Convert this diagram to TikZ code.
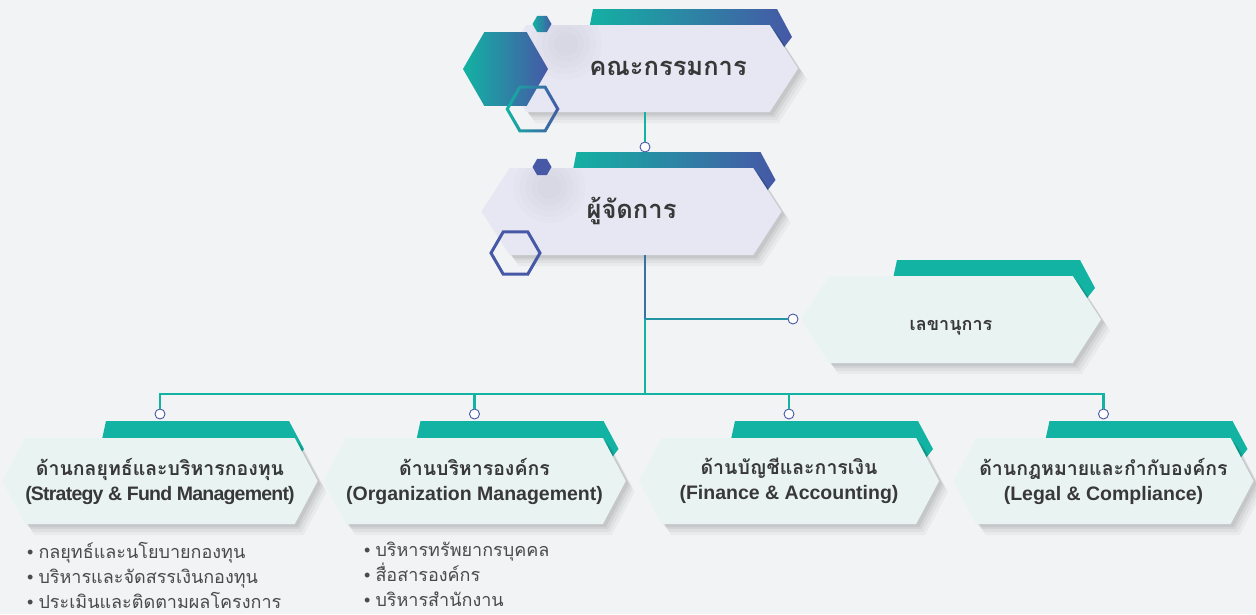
\documentclass[tikz,border=0pt]{standalone}
\usepackage{fontspec}
\setmainfont{Liberation Sans}
\newfontfamily\thai[Script=Thai]{Loma}
\usetikzlibrary{shapes.symbols,shadows}

\definecolor{bgc}{HTML}{F1F3F5}
\definecolor{tealc}{HTML}{12B3A3}
\definecolor{bluec}{HTML}{4658A6}
\definecolor{topfill}{HTML}{E6E7F3}
\definecolor{lowfill}{HTML}{E9F3F2}
\definecolor{inkc}{HTML}{383838}
\definecolor{listc}{HTML}{4A4A4A}

\newcommand{\hexa}[2]{(#1) ++(0:#2) -- ++(120:#2) -- ++(180:#2) -- ++(240:#2) -- ++(300:#2) -- ++(0:#2) -- cycle}

\begin{document}
\begin{tikzpicture}[x=1pt,y=-1pt]
	\tikzset{
		hexbox/.style={
			shape=signal, signal to=east and west, signal pointer angle=114,
			minimum width=300pt, minimum height=87pt, inner sep=0pt,
			general shadow={fill=black, opacity=0.035, shadow xshift=9pt, shadow yshift=-11pt},
			general shadow={fill=black, opacity=0.04, shadow xshift=7pt, shadow yshift=-8pt},
			general shadow={fill=black, opacity=0.05, shadow xshift=5pt, shadow yshift=-5pt},
			general shadow={fill=black, opacity=0.06, shadow xshift=3pt, shadow yshift=-3pt}
		},
		topbox/.style={
			hexbox, fill=topfill,
			path picture={
				\foreach \r in {36,30,24,18,12}{
					\fill[black, opacity=0.013] ([shift={(68,19)}]path picture bounding box.north west) circle (\r pt);
				}
			}
		},
		lowbox/.style={
			hexbox, fill=lowfill
		},
		subbox/.style={
			lowbox, signal pointer angle=124, minimum height=86pt,
			align=center, text=inkc, font=\bfseries\fontsize{19.5}{25}\selectfont
		},
		title/.style={
			text=inkc, font=\thai\bfseries\fontsize{25.5}{30}\selectfont,
			text height=20pt, text depth=6pt
		},
		smalltitle/.style={
			title, font=\thai\bfseries\fontsize{18}{22}\selectfont,
			text height=26pt, text depth=5pt
		},
		bullets/.style={
			anchor=north west, align=left, inner sep=0pt, text=listc,
			font=\fontsize{18}{25}\selectfont
		},
		dot/.style={
			circle, draw=bluec, fill=white, line width=0.9pt, inner sep=0pt, minimum size=10pt
		},
		link/.style={
			line width=2.5pt, draw=tealc
		}
	}

	\useasboundingbox (0,0) rectangle (1256,614);
	\fill[bgc] (0,0) rectangle (1256,614);

	\foreach \cx/\cy in {648/25, 631.5/168}{
		\shade[left color=tealc, right color=bluec] (\cx-55,\cy-16) -- (\cx+129,\cy-16) -- (\cx+144,\cy+12) -- (\cx+130,\cy+30) -- (\cx-64,\cy+30) -- cycle;
	}
	\foreach \cx/\cy in {951/276, 160/437, 474.5/437, 789/437, 1103.5/437}{
		\fill[tealc] (\cx-54,\cy-16) -- (\cx+129,\cy-16) -- (\cx+144,\cy+12) -- (\cx+130,\cy+30) -- (\cx-64,\cy+30) -- cycle;
	}

	\node[topbox] (board) at (648,68.5) {};
	\node[title] (boardlbl) at (668,68.5) {คณะกรรมการ};
	\node[topbox, title] (manager) at (631.5,211.5) {ผู้จัดการ};
	\node[lowbox, smalltitle] (secretary) at (951,319.5) {เลขานุการ};

	\shade[left color=tealc, right color=bluec] \hexa{505.5,69}{42.5};
	\shade[left color=tealc, right color=bluec, even odd rule] \hexa{532.5,109}{27} \hexa{532.5,109}{23.5};
	\shade[left color=tealc, right color=bluec] \hexa{542,24}{9.5};
	\fill[bluec] \hexa{542,167}{9.5};
	\draw[bluec, line width=3pt] \hexa{515.5,253}{24.5};

	\foreach \i/\cx/\th/\en in {
		1/160/{ด้านกลยุทธ์และบริหารกองทุน}/{\addfontfeature{LetterSpace=-4}(Strategy \& Fund Management)},
		2/474.5/{ด้านบริหารองค์กร}/{(Organization Management)},
		3/789/{ด้านบัญชีและการเงิน}/{(Finance \& Accounting)},
		4/1103.5/{ด้านกฎหมายและกำกับองค์กร}/{(Legal \& Compliance)}}{
		\node[subbox] (unit\i) at (\cx,481) {{\thai\th}\\{\en}};
		\node[dot] (d\i) at (\cx,414) {};
	}

	\coordinate (bus) at (645,394);
	\coordinate (hub) at (645,319);
	\node[dot] (d0) at (645,147) {};
	\node[dot] (dsec) at (793,319) {};

	\draw[link] (d0 |- board.south) -- (d0);
	\draw[link, draw=bluec!70!tealc] (bus |- manager.south) -- (hub);
	\draw[link] (hub) -- (bus);
	\draw[link, draw=tealc!65!bluec] (hub) -- (dsec);
	\foreach \i in {1, ..., 4}{
		\draw[link] (d\i) |- (bus);
	}

	\node[bullets] (lista) at (27,542) {\textbullet\ {\thai กลยุทธ์และนโยบายกองทุน}\\\textbullet\ {\thai บริหารและจัดสรรเงินกองทุน}\\\textbullet\ {\thai ประเมินและติดตามผลโครงการ}};
	\node[bullets] (listb) at (364,542) {\textbullet\ {\thai บริหารทรัพยากรบุคคล}\\\textbullet\ {\thai สื่อสารองค์กร}\\\textbullet\ {\thai บริหารสำนักงาน}};
\end{tikzpicture}
\end{document}
